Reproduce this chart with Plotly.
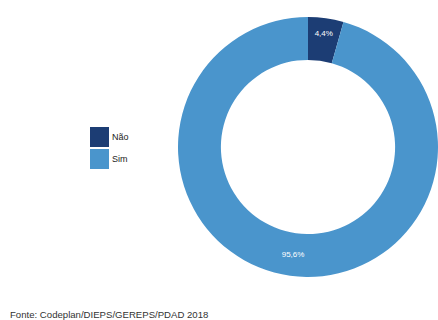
import plotly.graph_objects as go

# Data
labels = ["Não", "Sim"]
values = [4.4, 95.6]
colors = ["#1c3d74", "#4a95cc"]
source_note = "Fonte: Codeplan/DIEPS/GEREPS/PDAD 2018"

W, H = 438, 320

# Percent labels with comma decimal separator
texts = [f"{v:.1f}".replace(".", ",") + "%" for v in values]

fig = go.Figure(
    go.Pie(
        labels=labels,
        values=values,
        text=texts,
        textinfo="text",
        textposition="inside",
        insidetextorientation="horizontal",
        textfont=dict(family="Liberation Sans, Arial", size=8, color="white"),
        marker=dict(colors=colors, line=dict(width=0)),
        hole=0.67,
        sort=False,
        direction="clockwise",
        rotation=0,
        showlegend=False,
        hoverinfo="label+percent",
        domain=dict(x=[0.4064, 1.0], y=[0.1206, 0.9606]),
    )
)

# Legend drawn as swatches + labels
shapes = []
annotations = []
sw_x0, sw_x1 = 90, 109
sw_top = 127
sw_h = 20
sw_gap = 2
for i, (lab, col) in enumerate(zip(labels, colors)):
    y0 = sw_top + i * (sw_h + sw_gap)
    y1 = y0 + sw_h
    shapes.append(dict(
        type="rect", xref="paper", yref="paper",
        x0=sw_x0 / W, x1=sw_x1 / W,
        y0=1 - y1 / H, y1=1 - y0 / H,
        fillcolor=col, line=dict(width=0),
    ))
    annotations.append(dict(
        text=lab, xref="paper", yref="paper",
        x=(sw_x1 + 1) / W, y=1 - (y0 + sw_h / 2) / H,
        xanchor="left", yanchor="middle", showarrow=False,
        font=dict(family="Liberation Sans, Arial", size=9, color="#222222"),
    ))

annotations.append(dict(
    text=source_note, xref="paper", yref="paper",
    x=8 / W, y=1 - 314 / H, xanchor="left", yanchor="middle",
    showarrow=False,
    font=dict(family="Liberation Sans, Arial", size=9.6, color="#333333"),
))

fig.update_layout(
    width=W, height=H,
    margin=dict(l=0, r=0, t=0, b=0),
    paper_bgcolor="white",
    plot_bgcolor="white",
    shapes=shapes,
    annotations=annotations,
)

fig.write_html("out.html")
